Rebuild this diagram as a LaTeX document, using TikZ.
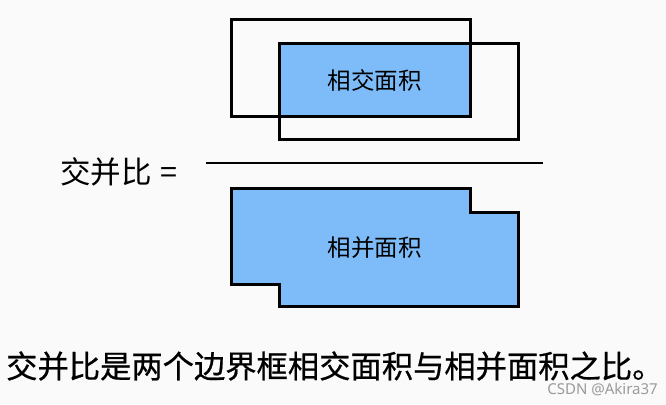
\documentclass[tikz,border=0pt]{standalone}
\usepackage{fontspec}
\setmainfont{Noto Sans CJK SC}
\newfontfamily\wmfont{Noto Sans}
\newfontfamily\capfont[FakeBold=0.6]{Noto Sans CJK SC}
\definecolor{bg}{HTML}{FAFAFA}
\definecolor{boxblue}{HTML}{7DBCF8}
\definecolor{wmgray}{HTML}{9A9A9A}
\begin{document}
\begin{tikzpicture}[x=1pt,y=-1pt,
  frame/.style={draw=black,line width=3pt,line join=miter},
  area/.style={frame,fill=boxblue},
  lbl/.style={font=\fontsize{23.5}{26}\selectfont,inner sep=0pt}]
\fill[bg] (0,0) rectangle (666,404);
\useasboundingbox (0,0) rectangle (666,404);
% intersection fill
\fill[boxblue] (279,44) rectangle (470,116);
% two boxes
\draw[frame] (231,20) rectangle (470,116);
\draw[frame] (279,44) rectangle (518,139);
\node[lbl] (inter) at (374.5,80) {相交面积};
% fraction bar
\coordinate (barL) at (206,163);
\coordinate (barR) at (543,163);
\draw[line width=2.6pt] (barL) -- (barR);
\node[inner sep=0pt,anchor=west,font=\fontsize{30.5}{34}\selectfont] (iou) at (60,172) {交并比\hspace{0.3em}=};
% union shape
\draw[area] (231,188) -- (470,188) -- (470,212) -- (518,212) -- (518,306)
  -- (279,306) -- (279,284) -- (231,284) -- cycle;
\node[lbl] (union) at (374.5,248) {相并面积};
% caption
\node[inner sep=0pt,anchor=west,font=\capfont\fontsize{31.3}{34}\selectfont] (cap) at (6,366) {交并比是两个边界框相交面积与相并面积之比。};
\node[inner sep=0pt,anchor=east,text=wmgray,font=\wmfont\fontsize{15}{17}\selectfont] (wm) at (658,389) {CSDN @Akira37};
\end{tikzpicture}
\end{document}
